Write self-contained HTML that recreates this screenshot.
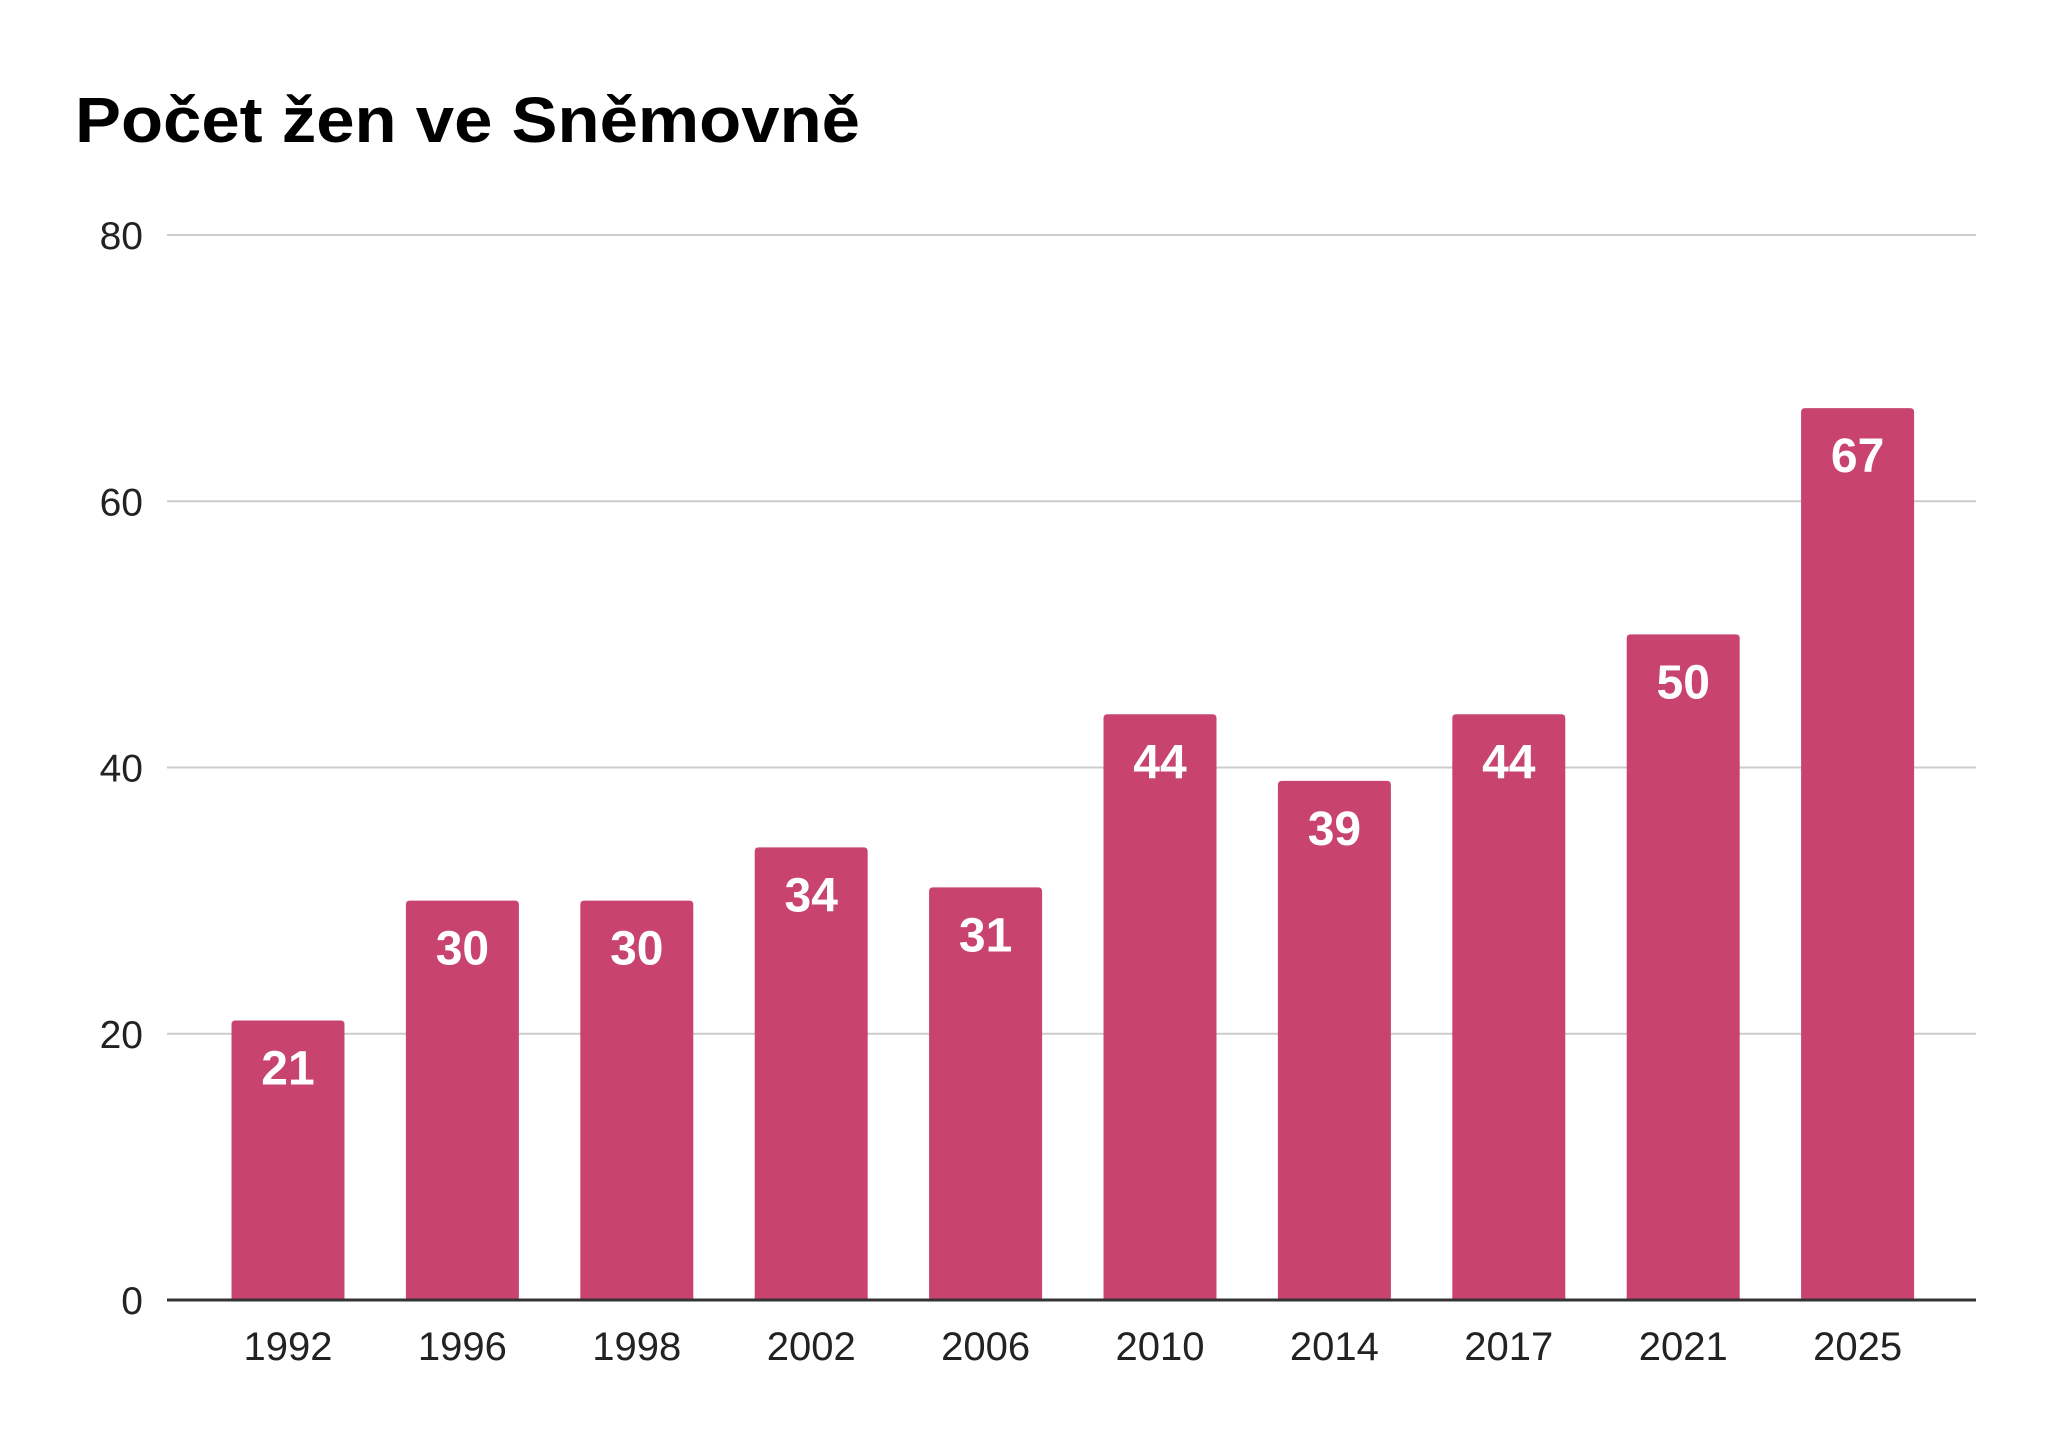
<!DOCTYPE html>
<html><head><meta charset="utf-8"><style>
html,body{margin:0;padding:0;background:#fff;}
svg{display:block;font-family:"Liberation Sans",sans-serif;}
</style></head><body>
<svg id="chart" width="2048" height="1445" viewBox="0 0 2048 1445">
<rect width="2048" height="1445" fill="#fff"/>
<text x="75" y="142" font-size="64" font-weight="bold" fill="#000" textLength="785" lengthAdjust="spacingAndGlyphs">Počet žen ve Sněmovně</text>
<g id="grid"></g>
<g id="bars"></g>
<g id="labels"></g>
</svg>
<script>
const categories = ["1992","1996","1998","2002","2006","2010","2014","2017","2021","2025"];
const values = [21,30,30,34,31,44,39,44,50,67];
const yTicks = [0,20,40,60,80];
const NS="http://www.w3.org/2000/svg";
const plotL=167, plotR=1976, y0=1300, yTop=235, yMax=80;
const firstC=288, step=174.4, barW=113;
function y(v){return y0-(v/yMax)*(y0-yTop);}
function x(i){return firstC+i*step;}
function mk(tag,attrs,parent){const e=document.createElementNS(NS,tag);for(const k in attrs)e.setAttribute(k,attrs[k]);parent.appendChild(e);return e;}
const grid=document.getElementById('grid'),bars=document.getElementById('bars'),labels=document.getElementById('labels');
yTicks.forEach(t=>{
  if(t!==0){const l=mk('line',{x1:plotL,x2:plotR,y1:y(t),y2:y(t),stroke:'#cccccc','stroke-width':2},grid);
  
  }
  const tx=mk('text',{x:143,y:y(t)+14,'font-size':39,fill:'#222','text-anchor':'end'},labels);
  tx.textContent=t;
  
  
});
categories.forEach((c,i)=>{
  const v=values[i];
  const b=mk('path',{d:`M${x(i)-barW/2},${y0} V${y(v)+4} q0,-4 4,-4 H${x(i)+barW/2-4} q4,0 4,4 V${y0} Z`,fill:'#c8446f'},bars);
  
  
  const vl=mk('text',{x:x(i),y:y(v)+64,'font-size':48,'font-weight':'bold',fill:'#fff','text-anchor':'middle'},labels);
  vl.textContent=v;
  
  
  const xl=mk('text',{x:x(i),y:1360,'font-size':40,fill:'#222','text-anchor':'middle'},labels);
  xl.textContent=c;
  
  
});
const ax=mk('line',{x1:plotL,x2:plotR,y1:y0,y2:y0,stroke:'#333','stroke-width':3},labels);


</script>
</body></html>
